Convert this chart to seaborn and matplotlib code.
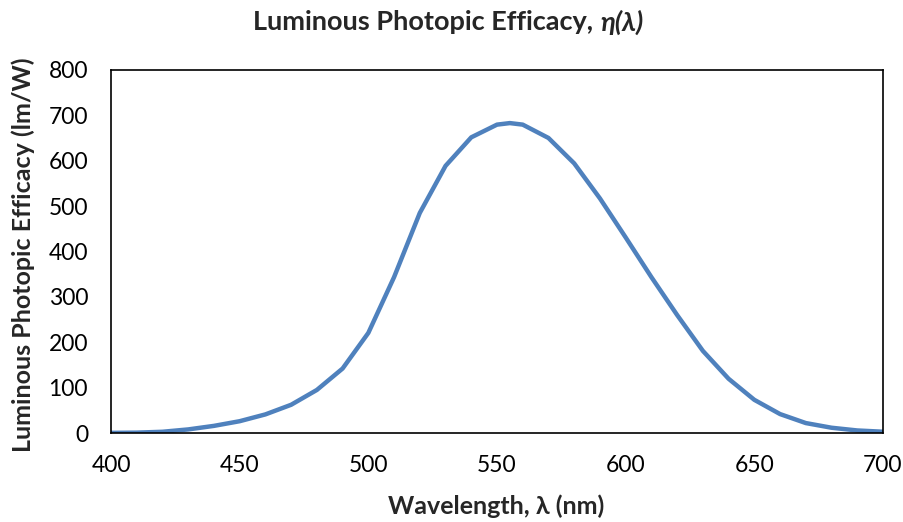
import matplotlib
matplotlib.use("Agg")
import matplotlib.pyplot as plt
import seaborn as sns
import pandas as pd

wavelength = [400, 410, 420, 430, 440, 450, 460, 470, 480, 490, 500, 510, 520, 530,
              540, 550, 555, 560, 570, 580, 590, 600, 610, 620, 630, 640, 650, 660,
              670, 680, 690, 700]
efficacy = [0.3, 0.8, 2.7, 7.9, 15.7, 26.0, 41.0, 62.2, 94.9, 142.1, 220.6, 343.5,
            485.0, 588.7, 651.6, 679.6, 683.0, 679.6, 650.2, 594.2, 517.0, 431.0,
            343.5, 260.0, 181.0, 119.5, 73.1, 41.7, 21.9, 11.6, 5.6, 2.8]
x_ticks = [400, 450, 500, 550, 600, 650, 700]
y_ticks = [0, 100, 200, 300, 400, 500, 600, 700, 800]

df = pd.DataFrame({"wl": wavelength, "eta": efficacy})

sns.set_theme(style="white")
plt.rcParams['font.family'] = ['Lato', 'DejaVu Sans']

W, H = 904, 522
fig = plt.figure(figsize=(W / 100, H / 100), dpi=100)
ax = fig.add_axes([111 / W, 1 - 433 / H, (883 - 111) / W, (433 - 70) / H])

sns.lineplot(data=df, x="wl", y="eta", ax=ax, color="#4F81BD", linewidth=3.2)

ax.set_xlim(400, 700)
ax.set_ylim(0, 800)
ax.set_xticks(x_ticks)
ax.set_yticks(y_ticks)
ax.tick_params(axis="both", which="both", direction="out", length=6.5, width=1.2,
               color="black", labelsize=16.5, labelcolor="black")
ax.tick_params(axis="x", pad=9)
ax.tick_params(axis="y", pad=10)
for s in ax.spines.values():
    s.set_visible(True)
    s.set_color("black")
    s.set_linewidth(1.2)
ax.grid(False)
ax.set_xlabel("")
ax.set_ylabel("")

fig.text(496 / W, 1 - 506 / H, "Wavelength, λ (nm)", ha="center", va="center",
         fontsize=18, fontweight="bold")
fig.text(23 / W, 1 - 255 / H, "Luminous Photopic Efficacy (lm/W)", ha="center", va="center",
         rotation=90, fontsize=18, fontweight="bold")

fig.text(600 / W, 1 - 22 / H, "Luminous Photopic Efficacy, ", ha="right", va="center",
         fontsize=19.5, fontweight="bold")
fig.text(600 / W, 1 - 22 / H, "η(λ)", ha="left", va="center",
         fontsize=19.5, fontweight="bold", fontstyle="italic")

fig.savefig("out.png", dpi=100)
